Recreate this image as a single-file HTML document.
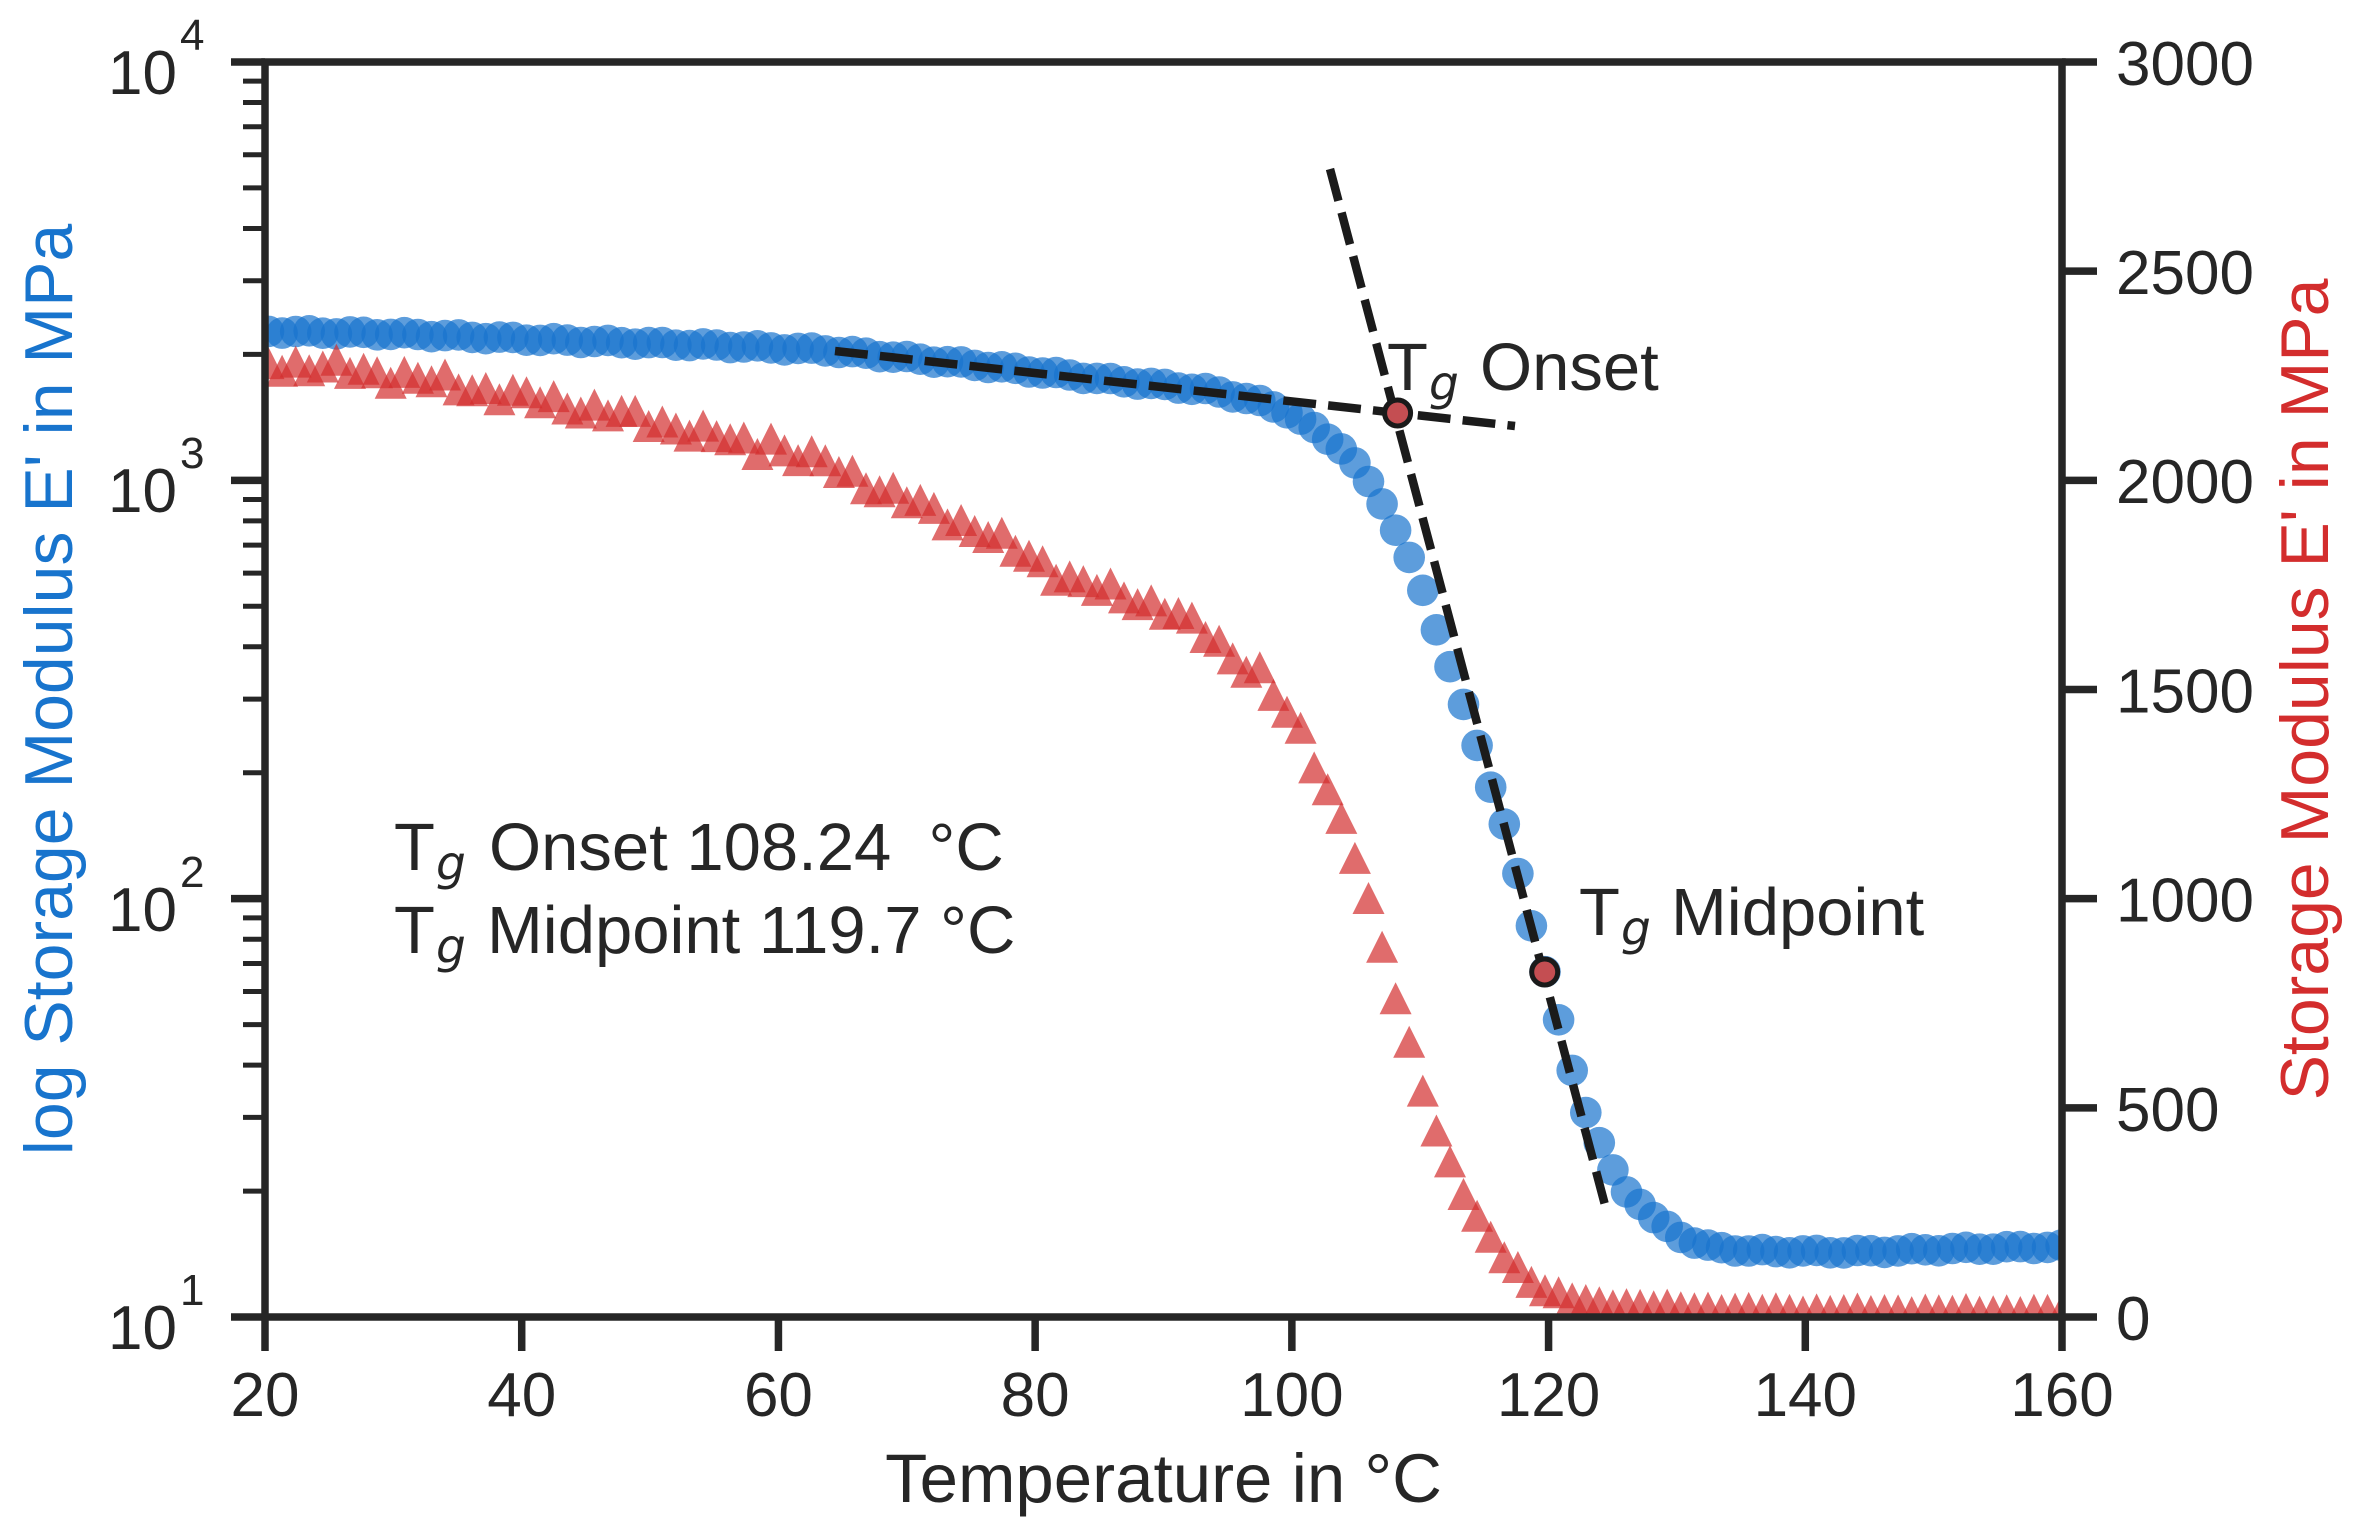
<!DOCTYPE html>
<html><head><meta charset="utf-8">
<style>
html,body{margin:0;padding:0;background:#fff;}
svg{display:block;}
text{font-family:"Liberation Sans",Arial,sans-serif;fill:#262626;}
.it{font-family:"DejaVu Sans","Liberation Sans",sans-serif;font-style:italic;}
</style></head>
<body>
<svg width="2364" height="1535" viewBox="0 0 2364 1535">
<defs><clipPath id="c"><rect x="265" y="62" width="1797" height="1255"/></clipPath></defs>
<rect width="2364" height="1535" fill="#fff"/>
<g clip-path="url(#c)">
  <g id="blue" fill="#1874cd" fill-opacity="0.7"></g>
  <g id="red" fill="#d32d2d" fill-opacity="0.7"></g>
</g>

<!-- tangent lines -->
<line x1="835" y1="351" x2="1515" y2="426" stroke="#1b1b1b" stroke-width="8.5" stroke-dasharray="32.9 12.2"/>
<line x1="1330" y1="169" x2="1605" y2="1205" stroke="#1b1b1b" stroke-width="8.5" stroke-dasharray="32.9 12.2"/>

<!-- Tg markers -->
<circle cx="1397.6" cy="413" r="13" fill="#c44e52" stroke="#1a1a1a" stroke-width="5"/>
<circle cx="1544.7" cy="972" r="13" fill="#c44e52" stroke="#1a1a1a" stroke-width="5"/>

<!-- spines -->
<rect x="265" y="62" width="1797" height="1255" fill="none" stroke="#262626" stroke-width="7.5"/>

<!-- ticks -->
<g stroke="#262626" stroke-width="7.5">
  <line x1="231" y1="62" x2="265" y2="62"/>
  <line x1="231" y1="480.33" x2="265" y2="480.33"/>
  <line x1="231" y1="898.67" x2="265" y2="898.67"/>
  <line x1="231" y1="1317" x2="265" y2="1317"/>
  <line x1="2062" y1="62" x2="2097" y2="62"/>
  <line x1="2062" y1="271.17" x2="2097" y2="271.17"/>
  <line x1="2062" y1="480.33" x2="2097" y2="480.33"/>
  <line x1="2062" y1="689.5" x2="2097" y2="689.5"/>
  <line x1="2062" y1="898.67" x2="2097" y2="898.67"/>
  <line x1="2062" y1="1107.83" x2="2097" y2="1107.83"/>
  <line x1="2062" y1="1317" x2="2097" y2="1317"/>
  <line x1="265" y1="1317" x2="265" y2="1351"/>
  <line x1="521.71" y1="1317" x2="521.71" y2="1351"/>
  <line x1="778.43" y1="1317" x2="778.43" y2="1351"/>
  <line x1="1035.14" y1="1317" x2="1035.14" y2="1351"/>
  <line x1="1291.86" y1="1317" x2="1291.86" y2="1351"/>
  <line x1="1548.57" y1="1317" x2="1548.57" y2="1351"/>
  <line x1="1805.29" y1="1317" x2="1805.29" y2="1351"/>
  <line x1="2062" y1="1317" x2="2062" y2="1351"/>
</g>
<g stroke="#262626" stroke-width="5">
  <line x1="243" y1="1191.07" x2="265" y2="1191.07"/>
  <line x1="243" y1="1117.40" x2="265" y2="1117.40"/>
  <line x1="243" y1="1065.14" x2="265" y2="1065.14"/>
  <line x1="243" y1="1024.60" x2="265" y2="1024.60"/>
  <line x1="243" y1="991.47" x2="265" y2="991.47"/>
  <line x1="243" y1="963.47" x2="265" y2="963.47"/>
  <line x1="243" y1="939.21" x2="265" y2="939.21"/>
  <line x1="243" y1="917.84" x2="265" y2="917.84"/>
  <line x1="243" y1="772.74" x2="265" y2="772.74"/>
  <line x1="243" y1="699.07" x2="265" y2="699.07"/>
  <line x1="243" y1="646.81" x2="265" y2="646.81"/>
  <line x1="243" y1="606.27" x2="265" y2="606.27"/>
  <line x1="243" y1="573.14" x2="265" y2="573.14"/>
  <line x1="243" y1="545.14" x2="265" y2="545.14"/>
  <line x1="243" y1="520.88" x2="265" y2="520.88"/>
  <line x1="243" y1="499.51" x2="265" y2="499.51"/>
  <line x1="243" y1="354.40" x2="265" y2="354.40"/>
  <line x1="243" y1="280.73" x2="265" y2="280.73"/>
  <line x1="243" y1="228.47" x2="265" y2="228.47"/>
  <line x1="243" y1="187.93" x2="265" y2="187.93"/>
  <line x1="243" y1="154.80" x2="265" y2="154.80"/>
  <line x1="243" y1="126.80" x2="265" y2="126.80"/>
  <line x1="243" y1="102.54" x2="265" y2="102.54"/>
  <line x1="243" y1="81.17" x2="265" y2="81.17"/>
</g>

<!-- left tick labels -->
<g font-size="62">
  <text x="108" y="94">10</text><text x="180" y="50" font-size="44">4</text>
  <text x="108" y="512">10</text><text x="180" y="468" font-size="44">3</text>
  <text x="108" y="931">10</text><text x="180" y="887" font-size="44">2</text>
  <text x="108" y="1349">10</text><text x="180" y="1305" font-size="44">1</text>
</g>

<!-- right tick labels -->
<g font-size="62">
  <text x="2116" y="85">3000</text>
  <text x="2116" y="294">2500</text>
  <text x="2116" y="503">2000</text>
  <text x="2116" y="712.5">1500</text>
  <text x="2116" y="921.7">1000</text>
  <text x="2116" y="1130.8">500</text>
  <text x="2116" y="1340">0</text>
</g>

<!-- x tick labels -->
<g font-size="62" text-anchor="middle">
  <text x="265" y="1416">20</text>
  <text x="521.71" y="1416">40</text>
  <text x="778.43" y="1416">60</text>
  <text x="1035.14" y="1416">80</text>
  <text x="1291.86" y="1416">100</text>
  <text x="1548.57" y="1416">120</text>
  <text x="1805.29" y="1416">140</text>
  <text x="2062" y="1416">160</text>
</g>

<!-- axis labels -->
<text x="1163.5" y="1502" font-size="69" text-anchor="middle">Temperature in °C</text>
<text transform="translate(72,689.5) rotate(-90)" font-size="68" text-anchor="middle" style="fill:#1874cd">log Storage Modulus E' in MPa</text>
<text transform="translate(2328,689.5) rotate(-90)" font-size="68" text-anchor="middle" style="fill:#d32d2d">Storage Modulus E' in MPa</text>

<!-- annotations -->
<g font-size="67">
  <text x="1387" y="390">T</text><text class="it" x="1429" y="400" font-size="47">g</text><text x="1480" y="390">Onset</text>
  <text x="1579" y="935">T</text><text class="it" x="1621" y="945" font-size="47">g</text><text x="1671" y="935">Midpoint</text>
  <text x="394" y="870">T</text><text class="it" x="436" y="880" font-size="47">g</text><text x="489" y="870">Onset 108.24&#160;&#160;°C</text>
  <text x="394" y="953">T</text><text class="it" x="436" y="963" font-size="47">g</text><text x="487" y="953">Midpoint 119.7 °C</text>
</g>
</svg>
<script>
(function(){
var B=[[250,331],[400,334],[551,340],[700,345],[825,350],[968,364],[1111,380],[1207,390],[1254,400],[1289,412],[1313,428],[1343,449],[1358,468],[1372,487],[1385,507],[1399,537],[1413,567],[1426,598],[1438,633],[1451,670],[1465,710],[1479,750],[1492,790],[1506,830],[1518,875],[1531,923],[1545,971],[1558,1019],[1571,1067],[1584,1107],[1598,1140],[1612,1170],[1626,1191],[1640,1203],[1653,1218],[1668,1228],[1682,1237],[1696,1243],[1710,1247],[1750,1251],[1850,1252],[1950,1249],[2090,1246]];
var R=[[250,362],[318,366],[400,375],[551,401],[650,420],[765,448],[825,462],[843,469],[879,489],[932,509],[986,534],[1025,553],[1075,582],[1129,596],[1168,609],[1207,634],[1236,659],[1259,671],[1275,696],[1289,716],[1300,734],[1312,757],[1329,791],[1345,826],[1358,865],[1372,912],[1385,958],[1399,1010],[1413,1056],[1426,1099],[1439,1137],[1453,1170],[1466,1198],[1479,1221],[1492,1240],[1505,1256],[1518,1268],[1532,1281],[1545,1289],[1559,1295],[1572,1298],[1600,1303],[1700,1308],[1800,1310],[2090,1311]];
function ip(p,x){if(x<=p[0][0])return p[0][1];for(var i=1;i<p.length;i++){if(x<=p[i][0]){var a=p[i-1],b=p[i];return a[1]+(b[1]-a[1])*(x-a[0])/(b[0]-a[0]);}}return p[p.length-1][1];}
var sb='',sr='';
for(var k=0;k<=136;k++){
  var x=268.5+13.58*k; if(x>2085)break;
  var yb=ip(B,x)+1.5*Math.sin(k*1.7);
  sb+='<circle cx="'+x.toFixed(1)+'" cy="'+yb.toFixed(1)+'" r="15.8"/>';
  var amp=x<1330?6:(x<1560?2:1.2);
  var yr=ip(R,x)+amp*(Math.sin(k*2.3)+0.5*Math.sin(k*0.9));
  if(k==37)yr-=12;
  sr+='<path d="M'+x.toFixed(1)+' '+(yr-16).toFixed(1)+'L'+(x-16).toFixed(1)+' '+(yr+16).toFixed(1)+'L'+(x+16).toFixed(1)+' '+(yr+16).toFixed(1)+'Z"/>';
}
document.getElementById('blue').innerHTML=sb;
document.getElementById('red').innerHTML=sr;
})();
</script>
</body></html>
